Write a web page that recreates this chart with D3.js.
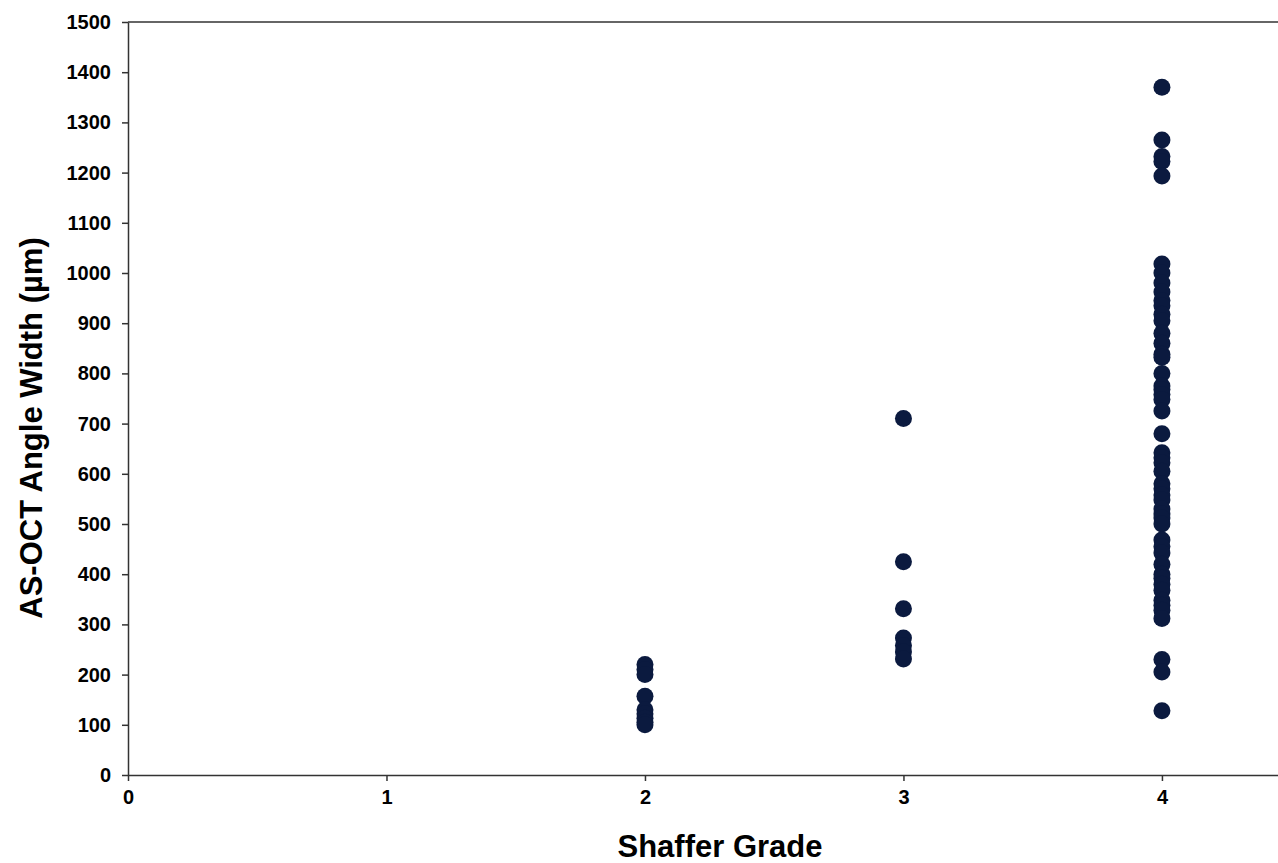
<!DOCTYPE html>
<html>
<head>
<meta charset="utf-8">
<script src="https://cdn.jsdelivr.net/npm/d3@7"></script>
<style>
  body { margin: 0; background: #fff; }
  svg { display: block; font-family: "Liberation Sans", Arial, sans-serif; }
  .axis path, .axis line { stroke: #333; stroke-width: 1.5; }
</style>
</head>
<body>
<svg id="chart"></svg>
<script>
// Shaffer grade groups and the AS-OCT angle widths measured in each (µm)
const grade2 = [220, 210, 200, 157, 130, 122, 113, 105, 100];
const grade3 = [710, 425, 331, 273, 258, 245, 231];
const grade4 = [1370, 1265, 1232, 1222, 1193, 1018, 1000, 980, 962, 945, 935, 918, 905,
  880, 860, 838, 832, 800, 775, 768, 758, 748, 725, 680, 642, 632, 622, 605, 580, 570,
  558, 548, 530, 520, 512, 500, 468, 455, 442, 420, 400, 392, 380, 368, 348, 338, 328,
  312, 230, 205, 128];
const xTicks = [0, 1, 2, 3, 4];
const yTicks = d3.range(0, 1501, 100);

const width = 1278;
const height = 863;
const margin = {
  top: 22, right: 0, bottom: 88, left: 128,
};

const points = [
  ...grade2.map(v => ({ grade: 2, value: v })),
  ...grade3.map(v => ({ grade: 3, value: v })),
  ...grade4.map(v => ({ grade: 4, value: v })),
];

// set the ranges
const x = d3.scaleLinear()
  .domain([0, 4.449])
  .range([margin.left, width - margin.right]);
const y = d3.scaleLinear()
  .domain([0, 1500])
  .range([height - margin.bottom, margin.top]);

const svg = d3.select('#chart')
  .attr('width', width)
  .attr('height', height);

// top frame line
svg.append('line')
  .attr('x1', margin.left)
  .attr('x2', width)
  .attr('y1', y(1500))
  .attr('y2', y(1500))
  .attr('stroke', '#333')
  .attr('stroke-width', 1.5);

const styleTicks = g => g.selectAll('text')
  .attr('font-family', '"Liberation Sans", Arial, sans-serif')
  .attr('font-size', 20)
  .attr('font-weight', 'bold')
  .attr('fill', '#000');

// Add the X Axis
svg.append('g')
  .attr('class', 'axis')
  .attr('transform', `translate(0,${y(0)})`)
  .call(d3.axisBottom(x).tickValues(xTicks).tickFormat(d3.format('d'))
    .tickSize(6).tickPadding(9).tickSizeOuter(0))
  .call(styleTicks);

// Add the Y Axis
svg.append('g')
  .attr('class', 'axis')
  .attr('transform', `translate(${x(0)},0)`)
  .call(d3.axisLeft(y).tickValues(yTicks).tickFormat(d3.format('d'))
    .tickSize(6).tickPadding(11).tickSizeOuter(0))
  .call(styleTicks);

// the points
svg.append('g')
  .selectAll('circle')
  .data(points)
  .join('circle')
  .attr('cx', d => x(d.grade))
  .attr('cy', d => y(d.value))
  .attr('r', 8.5)
  .attr('fill', '#0b1a3f');

// axis titles
svg.append('text')
  .attr('x', 720)
  .attr('y', 857)
  .attr('text-anchor', 'middle')
  .attr('font-size', 31)
  .attr('font-weight', 'bold')
  .text('Shaffer Grade');

svg.append('text')
  .attr('transform', 'translate(42,428) rotate(-90)')
  .attr('text-anchor', 'middle')
  .attr('font-size', 31)
  .attr('font-weight', 'bold')
  .text('AS-OCT Angle Width (µm)');
</script>
</body>
</html>
